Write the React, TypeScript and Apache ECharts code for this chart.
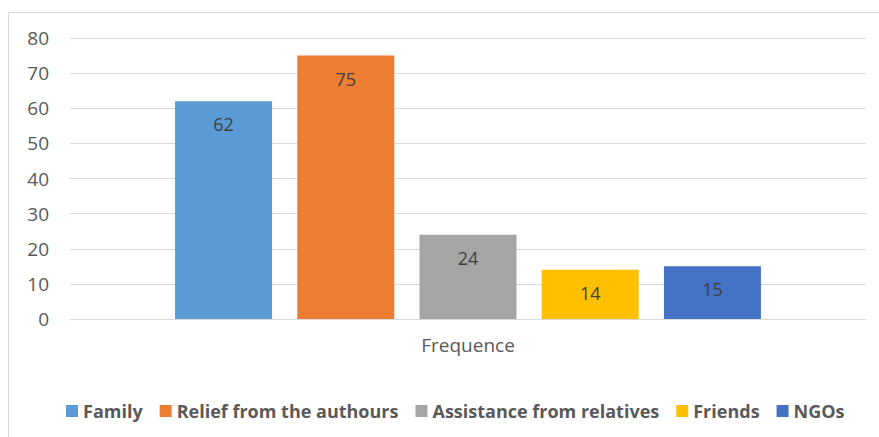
import React, { useEffect, useRef } from "react";
import * as echarts from "echarts";

const categories = ["Frequence"];
const seriesNames = [
  "Family",
  "Relief from the authours",
  "Assistance from relatives",
  "Friends",
  "NGOs",
];
const seriesValues = [62, 75, 24, 14, 15];
const seriesColors = ["#5b9bd5", "#ed7d31", "#a5a5a5", "#ffc000", "#4472c4"];
const yTicks = [0, 10, 20, 30, 40, 50, 60, 70, 80];

const FONT = "'Open Sans', 'Noto Sans', sans-serif";

export default function App() {
  const ref = useRef<HTMLDivElement>(null);

  useEffect(() => {
    if (!ref.current) return;
    const chart = echarts.init(ref.current, undefined, { renderer: "svg" });
    chart.setOption({
      animation: false,
      backgroundColor: "#ffffff",
      textStyle: { fontFamily: FONT },
      graphic: [
        {
          type: "rect",
          shape: { x: 8.5, y: 12.5, width: 900, height: 500 },
          style: { fill: "none", stroke: "#d9d9d9", lineWidth: 1 },
          silent: true,
        },
      ],
      grid: { left: 70, right: 13, top: 38, bottom: 118 },
      legend: {
        top: 397,
        left: 61,
        padding: 5,
        itemWidth: 12,
        itemHeight: 12,
        itemGap: 17,
        icon: "rect",
        textStyle: {
          fontFamily: FONT,
          fontSize: 18,
          fontWeight: "bold",
          color: "#595959",
        },
        data: seriesNames,
      },
      xAxis: {
        type: "category",
        data: categories,
        axisLine: { show: true, lineStyle: { color: "#d9d9d9", width: 1 } },
        axisTick: { show: false },
        axisLabel: {
          color: "#595959",
          fontSize: 19,
          fontFamily: FONT,
          margin: 16,
        },
      },
      yAxis: {
        type: "value",
        min: yTicks[0],
        max: yTicks[yTicks.length - 1],
        interval: 10,
        axisLine: { show: false },
        axisTick: { show: false },
        splitLine: { lineStyle: { color: "#d9d9d9", width: 1 } },
        axisLabel: {
          color: "#595959",
          fontSize: 19,
          fontFamily: FONT,
          margin: 21,
        },
      },
      series: seriesNames.map((name, i) => ({
        name,
        type: "bar",
        data: [seriesValues[i]],
        barWidth: 97,
        barGap: "26%",
        itemStyle: { color: seriesColors[i] },
        label: {
          show: true,
          position: "insideTop",
          distance: 14,
          color: "#404040",
          fontSize: 18,
          fontFamily: FONT,
        },
      })),
    });
    return () => chart.dispose();
  }, []);

  return (
    <div
      ref={ref}
      style={{ position: "fixed", left: 0, top: 0, width: 879, height: 437 }}
    />
  );
}
